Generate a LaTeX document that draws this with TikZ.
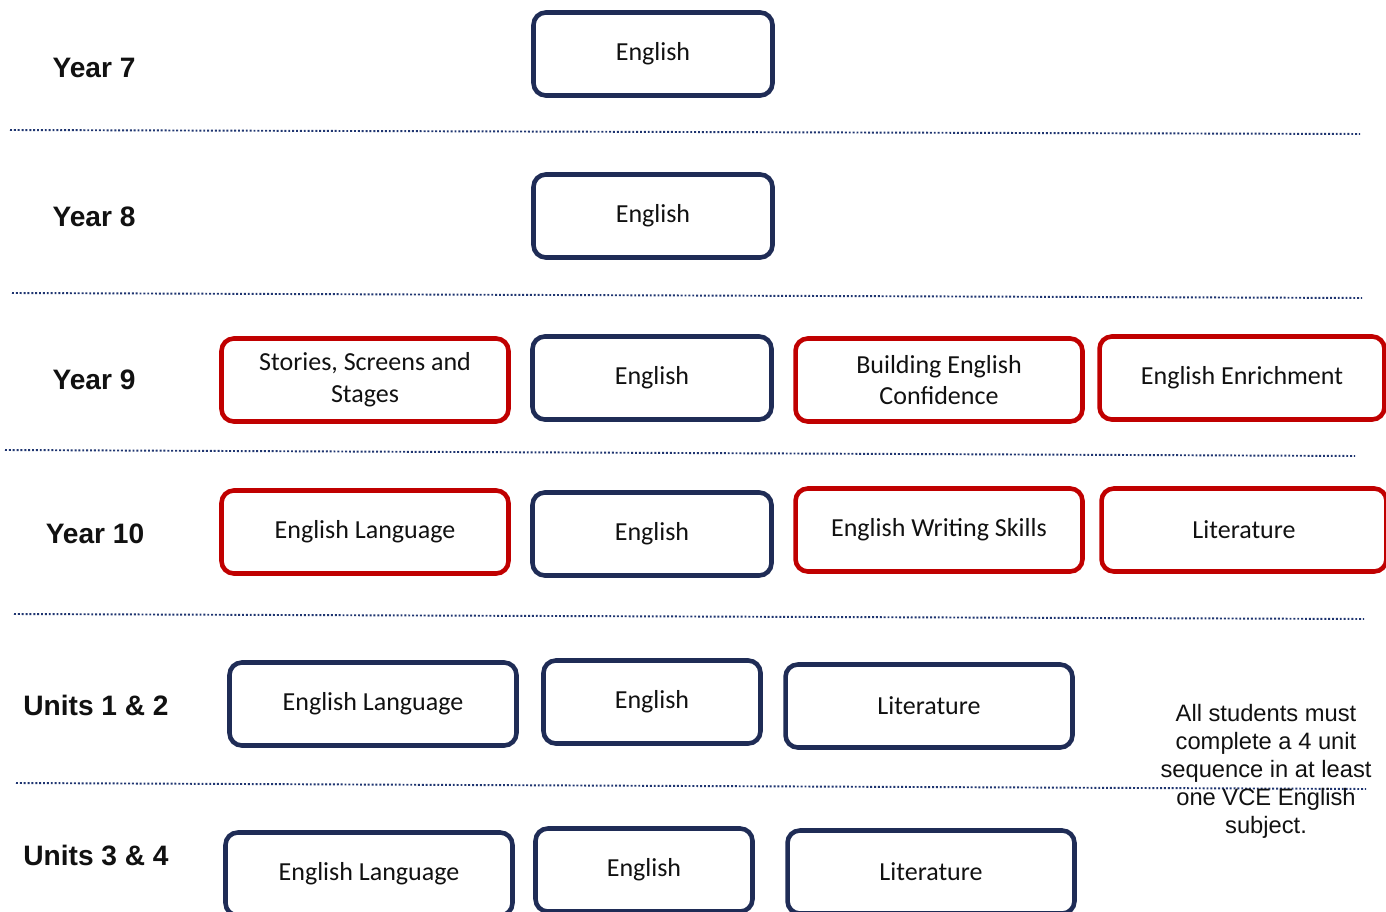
\documentclass[tikz,border=0pt]{standalone}
\usepackage{fontspec}
\setmainfont{Carlito}
\newfontfamily\arialfont{Liberation Sans}
\definecolor{pwNavy}{HTML}{1F2C56}
\definecolor{pwRed}{HTML}{C00000}
\definecolor{pwRule}{HTML}{1F3570}
\definecolor{pwText}{HTML}{111111}
\usetikzlibrary{positioning}
\tikzset{
  subject/.style={draw, line width=2.6pt, rounded corners=7pt, align=center,
    minimum height=1.66cm, text=pwText, font=\fontsize{14.8}{18}\selectfont},
  core/.style={subject, draw=pwNavy, minimum width=4.78cm},
  corewide/.style={subject, draw=pwNavy, minimum width=5.74cm},
  coresmall/.style={subject, draw=pwNavy, minimum width=4.34cm},
  elective/.style={subject, draw=pwRed, minimum width=5.74cm},
  yearlabel/.style={font=\arialfont\bfseries\fontsize{16}{18}\selectfont, text=pwText},
  yearrule/.style={pwRule, line width=1.1pt, dash pattern=on 1.1pt off 1.1pt}
}

\begin{document}
\begin{tikzpicture}[x=0.02cm, y=-0.02cm]
  \useasboundingbox (0,0) rectangle (1386,912);

  % dividers between the years
  \draw[yearrule] (10,130) -- (1360,134);
  \draw[yearrule] (12,293) -- (1362,298);
  \draw[yearrule] (5,450) -- (1355,456);
  \draw[yearrule] (14,614) -- (1364,619);
  \draw[yearrule] (16,783) -- (1366,789);

  % year labels
  \node[yearlabel] (y7) at (94,68) {Year 7};
  \node[yearlabel] (y8) at (94,217) {Year 8};
  \node[yearlabel] (y9) at (94,380) {Year 9};
  \node[yearlabel] (y10) at (95,534) {Year 10};
  \node[yearlabel] (u12) at (96,705) {Units 1 \& 2};
  \node[yearlabel] (u34) at (96,855) {Units 3 \& 4};

  % year 7 and 8
  \node[core] (y7eng) at (653,54) {English};
  \node[core] (y8eng) at (653,216) {English};

  % year 9
  \node[elective] (y9ssc) at (365,380) {Stories, Screens and\\Stages};
  \node[core] (y9eng) at (652,378) {English};
  \node[elective] (y9bec) at (939,380) {Building English\\Confidence};
  \node[elective, minimum width=5.7cm] (y9enr) at (1242,378) {English Enrichment};

  % year 10
  \node[elective] (y10lang) at (365,532) {English Language};
  \node[core] (y10eng) at (652,534) {English};
  \node[elective] (y10ews) at (939,530) {English Writing Skills};
  \node[elective, minimum width=5.7cm] (y10lit) at (1244,530) {Literature};

  % units 1 & 2
  \node[corewide] (u12lang) at (373,704) {English Language};
  \node[coresmall] (u12eng) at (652,702) {English};
  \node[corewide] (u12lit) at (929,706) {Literature};

  % units 3 & 4
  \node[corewide] (u34lang) at (369,874) {English Language};
  \node[coresmall] (u34eng) at (644,870) {English};
  \node[corewide] (u34lit) at (931,872) {Literature};

  \node[font=\arialfont\fontsize{13.5}{15.9}\selectfont, text=pwText, align=center] (vcenote) at (1266,771)
    {All students must\\complete a 4 unit\\sequence in at least\\one VCE English\\subject.};
\end{tikzpicture}
\end{document}
